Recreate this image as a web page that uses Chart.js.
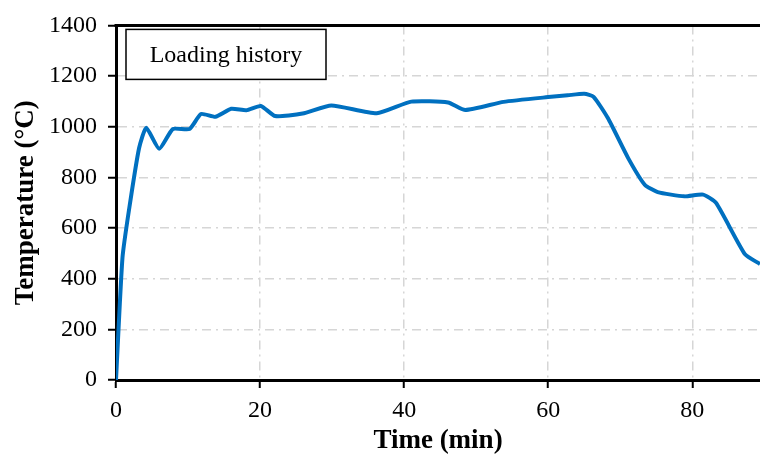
<!DOCTYPE html>
<html>
<head>
<meta charset="utf-8">
<script src="https://cdn.jsdelivr.net/npm/chart.js@4.4.1/dist/chart.umd.min.js"></script>
<style>
  html, body { margin: 0; padding: 0; background: #ffffff; }
  #wrap { width: 760px; height: 457px; overflow: hidden; }
</style>
</head>
<body>
<div id="wrap"><canvas id="chart" width="760" height="457"></canvas></div>
<script>
// Furnace temperature history: time (min) vs temperature (°C)
const timeMin = [0, 0.9, 1.85, 3.2, 4.2, 6.0, 7.9, 10.2, 11.8, 13.8, 16.0, 18.1, 20.1, 22.1,
  25.9, 29.9, 36.2, 41.0, 46.1, 48.5, 53.8, 60.4, 62.7, 65.0, 66.3, 68.3, 71.1, 73.4,
  75.2, 78.9, 81.5, 83.3, 87.3, 89.4];
const tempC = [0, 483, 680, 915, 996, 913, 991, 991, 1050, 1039, 1071, 1065, 1082, 1042,
  1052, 1084, 1053, 1099, 1096, 1066, 1098, 1118, 1124, 1130, 1118, 1033, 876, 771,
  742, 725, 732, 699, 497, 458];
const xTicks = [0, 20, 40, 60, 80];
const yTicks = [0, 200, 400, 600, 800, 1000, 1200, 1400];
const legendText = 'Loading history';

const points = timeMin.map((t, i) => ({ x: t, y: tempC[i] }));
const serif = '"Liberation Serif", "Times New Roman", serif';

// Heavy top frame line and the boxed caption in the upper-left corner
const framePlugin = {
  id: 'frame',
  beforeDraw(chart) {
    const ctx = chart.ctx;
    ctx.save();
    ctx.fillStyle = '#ffffff';
    ctx.fillRect(0, 0, chart.width, chart.height);
    ctx.restore();
  },
  afterDraw(chart) {
    const { ctx, chartArea: a } = chart;
    ctx.save();
    ctx.strokeStyle = '#000000';
    ctx.lineWidth = 3;
    ctx.beginPath();
    ctx.moveTo(a.left - 1.5, a.top);
    ctx.lineTo(a.right, a.top);
    ctx.stroke();

    const bx = a.left + 10, by = a.top + 4, bw = 200, bh = 50;
    ctx.fillStyle = '#ffffff';
    ctx.fillRect(bx, by, bw, bh);
    ctx.lineWidth = 1.5;
    ctx.strokeRect(bx, by, bw, bh);
    ctx.fillStyle = '#000000';
    ctx.font = '24px ' + serif;
    ctx.textAlign = 'center';
    ctx.textBaseline = 'alphabetic';
    ctx.fillText(legendText, bx + bw / 2, by + 33);
    ctx.restore();
  }
};

const gridStyle = {
  color: '#d6d6d6',
  lineWidth: 1.5,
  drawTicks: true,
  tickLength: 8,
  tickColor: '#000000',
  tickWidth: 2,
  tickBorderDash: []
};

const plainNumber = v => String(v);

new Chart(document.getElementById('chart'), {
  type: 'line',
  data: {
    datasets: [{
      data: points,
      borderColor: '#0070C0',
      borderWidth: 4,
      pointRadius: 0,
      tension: 0.18,
      fill: false
    }]
  },
  options: {
    responsive: false,
    animation: false,
    layout: { padding: { top: 23, right: 0, bottom: 0, left: 0 } },
    plugins: { legend: { display: false }, tooltip: { enabled: false } },
    scales: {
      x: {
        type: 'linear',
        min: 0,
        max: 89.4,
        afterFit(scale) { scale.height = 77; },
        afterBuildTicks(scale) { scale.ticks = xTicks.map(v => ({ value: v })); },
        ticks: {
          includeBounds: false,
          padding: 8,
          color: '#000000',
          font: { family: serif, size: 24 },
          callback: plainNumber
        },
        grid: gridStyle,
        border: { display: true, color: '#000000', width: 3, dash: [9, 5, 2, 5] },
        title: {
          display: true,
          text: 'Time (min)',
          color: '#000000',
          font: { family: serif, size: 27, weight: 'bold' },
          padding: { top: 0, bottom: 0 }
        }
      },
      y: {
        type: 'linear',
        min: 0,
        max: 1400,
        afterFit(scale) { scale.width = 116; },
        afterBuildTicks(scale) { scale.ticks = yTicks.map(v => ({ value: v })); },
        ticks: {
          padding: 11,
          color: '#000000',
          font: { family: serif, size: 24 },
          callback: plainNumber
        },
        grid: gridStyle,
        border: { display: true, color: '#000000', width: 3, dash: [9, 5, 2, 5] },
        title: {
          display: true,
          text: 'Temperature (°C)',
          color: '#000000',
          font: { family: serif, size: 27, weight: 'bold' },
          padding: { top: 10, bottom: 0 }
        }
      }
    }
  },
  plugins: [framePlugin]
});
</script>
</body>
</html>
